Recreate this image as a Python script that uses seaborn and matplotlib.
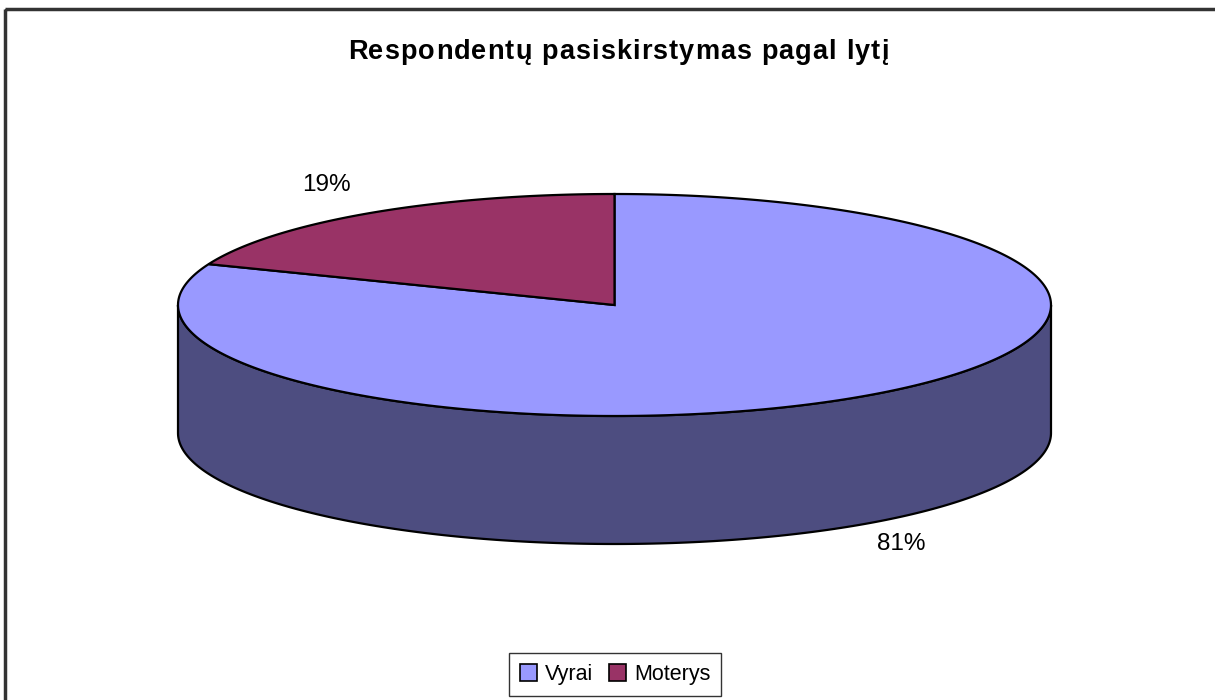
import numpy as np
import matplotlib
matplotlib.use("Agg")
import matplotlib.pyplot as plt
from matplotlib.patches import Polygon, Rectangle, Patch
from matplotlib.font_manager import FontProperties
import seaborn as sns

# ---- data ----
categories = ["Vyrai", "Moterys"]
values = [81, 19]
top_colors = ["#9999FF", "#993366"]
side_colors = ["#4D4D80", "#4D1A33"]
title = "Respondentų pasiskirstymas pagal lytį"

sns.set_theme(style="white")
plt.rcParams['font.family'] = ['Liberation Sans', 'DejaVu Sans']
plt.rcParams['text.color'] = 'black'

W, H = 1215, 700
fig = plt.figure(figsize=(W / 100, H / 100), dpi=100)
ax = fig.add_axes([0, 0, 1, 1])
ax.set_xlim(0, W)
ax.set_ylim(H, 0)
ax.axis("off")

# outer frame
ax.add_patch(Rectangle((5, 9), W + 20, H + 20, fill=False, ec="#333333", lw=2.5, zorder=0))

# 3D pie geometry
cx, cy = 614.5, 305
a, b = 436.5, 111
depth = 128


def pt(t, dy=0.0):
    return cx + a * np.cos(t), cy - b * np.sin(t) + dy


total = float(sum(values))
fracs = [v / total for v in values]
# Vyrai clockwise from 12 o'clock, Moterys counter-clockwise from 12 o'clock
slices = [(np.pi / 2 - 2 * np.pi * fracs[0], np.pi / 2),
          (np.pi / 2, np.pi / 2 + 2 * np.pi * fracs[1])]

# side walls (front half: angles between pi and 2pi)
for (t0, t1), sc in zip(slices, side_colors):
    for shift in (-2 * np.pi, 0, 2 * np.pi):
        s0 = max(t0 + shift, np.pi)
        s1 = min(t1 + shift, 2 * np.pi)
        if s1 > s0:
            ts = np.linspace(s0, s1, 200)
            xs, ys = pt(ts)
            xb, yb = pt(ts[::-1], depth)
            poly = np.column_stack([np.r_[xs, xb], np.r_[ys, yb]])
            ax.add_patch(Polygon(poly, closed=True, fc=sc, ec="black", lw=1.6, zorder=2))

# top faces
for (t0, t1), tc in zip(slices, top_colors):
    ts = np.linspace(t0, t1, 400)
    xs, ys = pt(ts)
    poly = np.column_stack([np.r_[cx, xs], np.r_[cy, ys]])
    ax.add_patch(Polygon(poly, closed=True, fc=tc, ec="black", lw=1.6, joinstyle="miter", zorder=3))

# percentage labels
ax.text(326, 185, f"{values[1]}%", ha="center", va="center", fontsize=17.5, color="black", zorder=5)
ax.text(901, 544, f"{values[0]}%", ha="center", va="center", fontsize=17.5, color="black", zorder=5)

# title with letter spacing
renderer = fig.canvas.get_renderer()
prop = FontProperties(family=['Liberation Sans', 'DejaVu Sans'], weight="bold", size=19.5)
spacing = 1.1
widths = []
for i in range(len(title) + 1):
    w, _, _ = renderer.get_text_width_height_descent(title[:i], prop, ismath=False)
    widths.append(w)
total_w = widths[-1] + spacing * (len(title) - 1)
x0 = 618 - total_w / 2
for i, ch in enumerate(title):
    if ch == " ":
        continue
    ax.text(x0 + widths[i] + spacing * i, 59, ch, ha="left", va="baseline",
            fontproperties=prop, color="black")

# legend
handles = [Patch(fc=c, ec="black", lw=1.2) for c in top_colors]
leg = fig.legend(handles, categories, loc="center", bbox_to_anchor=(615 / W, 1 - 674.5 / H),
                 ncol=2, frameon=True, fontsize=15.5, handlelength=0.8, handleheight=0.8,
                 handletextpad=0.36, columnspacing=0.75, borderpad=0.5, borderaxespad=0,
                 fancybox=False, labelcolor="black")
leg.get_frame().set_edgecolor("black")
leg.get_frame().set_linewidth(1.0)

fig.savefig("out.png", dpi=100, facecolor="white")
